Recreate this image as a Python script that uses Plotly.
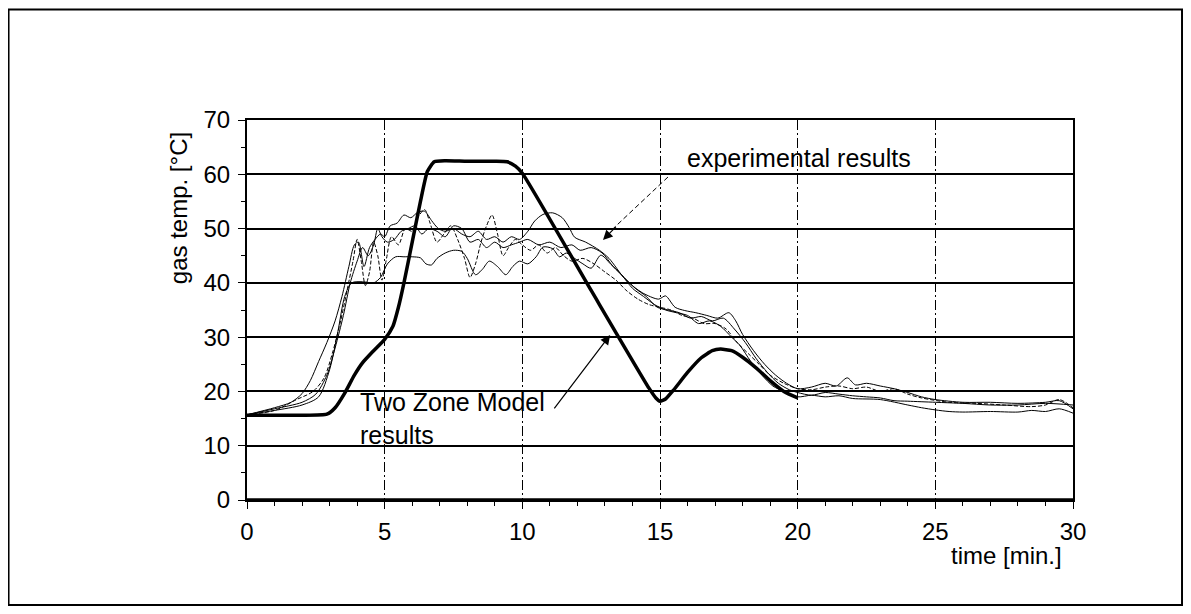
import plotly.graph_objects as go

# ---- data ----
x_ticks = [0, 5, 10, 15, 20, 25, 30]
y_ticks = [0, 10, 20, 30, 40, 50, 60, 70]

# Two Zone Model results
t_model = [0, 1, 2, 2.9, 3.2, 3.55, 3.9, 4.2, 4.6, 5.0, 5.3, 5.5, 5.7, 6.0, 6.3, 6.55, 6.8, 7.2, 8.0, 9.0,
           9.45, 9.75, 10.0, 12.5, 14.6, 14.85, 15.0, 15.2, 15.5, 16.0, 16.5, 16.9, 17.2, 17.6, 18.0, 18.5,
           19.0, 19.5, 20.0]
v_model = [15.6, 15.6, 15.6, 15.8, 17.0, 19.7, 23.0, 25.3, 27.5, 29.6, 32.0, 35.5, 40.0, 47.5, 55.0, 60.5,
           62.3, 62.5, 62.4, 62.4, 62.3, 61.5, 60.2, 38.6, 20.6, 18.8, 18.2, 18.6, 20.3, 23.5, 26.2, 27.5,
           27.8, 27.5, 26.3, 24.3, 22.0, 20.0, 18.8]

# experimental results (four measurements)
t_exp1 = [0, 1.0, 1.6, 2.0, 2.3, 2.6, 2.9, 3.2, 3.45, 3.7, 3.9, 4.05, 4.25, 4.45, 4.65, 4.85, 5.0, 5.2, 5.45,
          5.7, 5.95, 6.2, 6.45, 6.7, 6.95, 7.2, 7.5, 7.8, 8.1, 8.4, 8.7, 9.0, 9.3, 9.6, 9.9, 10.2, 10.45,
          10.75, 11.1, 11.45, 11.7, 11.9, 12.3, 12.8, 13.15, 13.75, 14.35, 14.95, 15.2, 15.55, 15.9, 16.3,
          16.7, 17.1, 17.5, 17.75, 18.0, 18.4, 18.8, 19.2, 19.6, 20.0, 20.5, 21.0, 21.4, 21.8, 22.1, 22.5,
          23.0, 23.5, 24.0, 24.5, 25.0, 26.0, 27.0, 28.0, 29.0, 29.5, 30.0]
v_exp1 = [15.7, 17.0, 18.0, 19.6, 22.0, 25.5, 29.0, 33.0, 37.5, 43.0, 47.0, 47.5, 43.0, 46.5, 48.0, 49.0,
          48.5, 50.5, 51.0, 52.5, 52.0, 53.0, 53.2, 51.5, 50.0, 49.5, 50.0, 49.0, 48.5, 49.5, 48.0, 48.5,
          47.5, 48.5, 48.0, 49.5, 51.4, 52.6, 52.9, 52.0, 50.2, 48.4, 47.5, 46.0, 44.5, 40.6, 38.2, 37.0,
          37.6, 35.5, 34.9, 34.5, 34.0, 33.5, 34.5, 33.0, 30.5, 27.5, 25.0, 23.0, 21.5, 20.5, 20.8, 21.5,
          21.0, 22.5, 21.2, 21.5, 21.0, 20.5, 19.8, 19.0, 18.5, 18.0, 18.0, 17.8, 18.0, 18.3, 16.8]

t_exp2 = [0, 1.0, 2.0, 2.5, 2.9, 3.2, 3.5, 3.75, 4.0, 4.2, 4.4, 4.6, 4.75, 4.9, 5.1, 5.35, 5.6, 5.85, 6.1,
          6.35, 6.6, 6.9, 7.2, 7.5, 7.8, 8.1, 8.4, 8.7, 9.0, 9.3, 9.6, 9.9, 10.2, 10.6, 11.0, 11.4, 11.8,
          12.1, 12.5, 12.9, 13.3, 13.7, 14.1, 14.5, 14.9, 15.3, 15.7, 16.1, 16.5, 16.9, 17.3, 17.7, 18.1,
          18.5, 18.9, 19.3, 19.7, 20.0, 20.5, 21.0, 21.5, 22.0, 22.5, 23.0, 23.5, 24.0, 25.0, 26.0, 27.0,
          28.0, 29.0, 30.0]
v_exp2 = [15.7, 16.8, 18.0, 19.5, 23.0, 28.0, 34.0, 40.0, 44.0, 46.5, 45.0, 47.0, 50.0, 48.5, 47.5, 48.0,
          49.5, 50.0, 50.5, 49.0, 50.0, 49.5, 48.5, 50.5, 50.0, 47.5, 48.0, 46.5, 47.5, 46.5, 47.0, 47.5,
          48.0, 47.0, 47.5, 46.5, 47.0, 46.0, 46.5, 45.5, 43.0, 41.0, 39.0, 37.5, 35.5, 35.0, 34.5, 33.5,
          33.8, 33.0, 33.5, 31.5, 29.0, 26.0, 23.5, 21.5, 20.3, 19.8, 19.3, 19.8, 19.5, 19.2, 19.0, 18.8,
          18.3, 18.2, 18.0, 17.8, 17.5, 17.5, 17.8, 17.5]

t_exp3 = [0, 1.0, 2.0, 2.6, 3.0, 3.3, 3.55, 3.8, 4.2, 4.6, 4.85, 5.1, 5.4, 5.7, 6.0, 6.3, 6.5, 6.7, 6.9,
          7.2, 7.5, 7.8, 8.0, 8.3, 8.55, 8.8, 9.1, 9.4, 9.65, 9.9, 10.2, 10.5, 10.75, 11.1, 11.35, 11.6,
          11.9, 12.2, 12.5, 12.85, 13.2, 13.6, 14.0, 14.4, 14.8, 15.2, 15.6, 16.0, 16.4, 16.8, 17.2, 17.6,
          17.9, 18.3, 18.7, 19.1, 19.5, 20.0, 20.5, 21.0, 21.5, 22.0, 23.0, 24.0, 24.5, 25.0, 25.5, 26.0,
          27.0, 28.0, 28.5, 29.0, 29.5, 30.0]
v_exp3 = [15.7, 16.5, 17.5, 19.0, 24.0, 31.0, 37.5, 40.0, 40.2, 40.0, 41.0, 43.5, 44.8, 44.8, 44.8, 44.6,
          43.5, 43.3, 44.5, 45.5, 46.0, 45.8, 44.5, 41.5, 42.5, 44.0, 43.0, 41.5, 43.0, 44.0, 43.5, 44.8,
          46.6, 46.3, 44.8, 45.5, 44.5, 43.5, 42.7, 45.1, 43.5, 41.5, 39.0, 37.5, 36.0, 35.0, 34.5, 34.0,
          32.5, 33.0, 32.0, 30.0, 28.5, 25.5, 23.0, 21.0, 20.0, 19.0, 19.3, 19.0, 19.2, 18.7, 18.5, 17.5,
          17.0, 16.6, 16.3, 16.2, 16.3, 16.2, 16.5, 16.3, 16.8, 16.0]

t_exp4 = [0, 1.0, 1.8, 2.4, 2.8, 3.1, 3.4, 3.65, 3.85, 4.0, 4.15, 4.3, 4.45, 4.6, 4.75, 4.9, 5.05, 5.25,
          5.5, 5.75, 6.0, 6.2, 6.45, 6.65, 6.9, 7.15, 7.4, 7.65, 7.9, 8.1, 8.3, 8.5, 8.7, 8.9, 9.1, 9.3,
          9.5, 9.75, 10.0, 10.3, 10.6, 10.9, 11.2, 11.5, 11.8, 12.2, 12.6, 13.0, 13.4, 13.8, 14.2, 14.6,
          15.0, 15.4, 15.8, 16.2, 16.6, 17.0, 17.4, 17.8, 18.2, 18.6, 19.0, 19.5, 20.0, 20.5, 21.0, 21.5,
          22.0, 22.5, 23.0, 23.5, 24.0, 24.5, 25.5, 26.5, 27.5, 28.5, 29.0, 29.5, 30.0]
v_exp4 = [15.7, 16.5, 18.5, 20.0, 22.5, 27.0, 33.0, 39.0, 44.0, 48.0, 44.0, 39.5, 42.0, 47.5, 45.0, 40.5,
          44.0, 48.5, 47.0, 50.0, 49.5, 52.0, 53.5, 51.0, 47.5, 49.0, 50.5, 48.0, 44.5, 41.0, 43.5, 47.5,
          50.5, 52.5, 49.0, 45.0, 46.5, 48.0, 47.0, 46.0, 47.0, 45.5, 46.5, 45.0, 44.0, 44.5, 43.5, 42.0,
          40.5, 38.5, 37.0, 36.0, 35.5, 35.0, 34.0, 33.5, 32.5, 32.5, 31.5, 29.0, 27.0, 25.0, 23.0, 21.5,
          20.5, 20.3, 20.8, 21.0, 20.5, 20.8, 20.0, 20.5, 19.5, 18.8, 18.0, 17.8, 17.5, 17.2, 17.5, 18.5,
          17.0]

FONT = "Liberation Sans, Arial, Helvetica, sans-serif"

fig = go.Figure()
thin = dict(color="black", width=1, shape="spline", smoothing=0.8)
fig.add_trace(go.Scatter(x=t_exp1, y=v_exp1, mode="lines", line=thin, hoverinfo="skip"))
fig.add_trace(go.Scatter(x=t_exp2, y=v_exp2, mode="lines", line=thin, hoverinfo="skip"))
fig.add_trace(go.Scatter(x=t_exp3, y=v_exp3, mode="lines", line=thin, hoverinfo="skip"))
fig.add_trace(go.Scatter(x=t_exp4, y=v_exp4, mode="lines",
                         line=dict(color="black", width=1, dash="4px,2px", shape="spline", smoothing=0.8),
                         hoverinfo="skip"))
fig.add_trace(go.Scatter(x=t_model, y=v_model, mode="lines",
                         line=dict(color="black", width=3.5, shape="spline", smoothing=0.5),
                         hoverinfo="skip"))

fig.update_layout(
    width=1175, height=598,
    margin=dict(l=239, r=110, t=112, b=106),
    paper_bgcolor="white", plot_bgcolor="white",
    showlegend=False,
    font=dict(family=FONT, size=24, color="black"),
    xaxis=dict(range=[0, 30], tickvals=x_ticks, showgrid=True, gridcolor="black", gridwidth=1,
               griddash="10px,3px,2px,3px", zeroline=False, showline=True, linecolor="black",
               linewidth=2, mirror=True, ticks="outside", ticklen=7, tickcolor="black",
               ticklabelstandoff=2,
               minor=dict(dtick=1, ticks="outside", ticklen=4, tickcolor="black", showgrid=False),
               tickfont=dict(family=FONT, size=24, color="black")),
    yaxis=dict(range=[0, 70], tickvals=y_ticks, showgrid=True, gridcolor="black", gridwidth=2,
               zeroline=False, showline=True, linecolor="black", linewidth=2, mirror=True,
               ticks="outside", ticklen=7, tickcolor="black", ticklabelstandoff=3,
               minor=dict(dtick=5, ticks="outside", ticklen=4, tickcolor="black", showgrid=False),
               tickfont=dict(family=FONT, size=24, color="black")),
)

# outer frame and thick bottom axis
fig.add_shape(type="rect", xref="paper", yref="paper", x0=-0.2887, x1=1.1320, y0=-0.2763, y1=1.2908,
              line=dict(color="black", width=2), fillcolor="rgba(0,0,0,0)")
fig.add_shape(type="line", xref="paper", yref="paper", x0=0, x1=1, y0=0, y1=0,
              line=dict(color="black", width=3.5))

# axis titles
fig.add_annotation(text="gas temp. [°C]", xref="paper", yref="paper", x=-0.0835, y=0.768,
                   textangle=-90, showarrow=False, xanchor="center", yanchor="middle",
                   font=dict(family=FONT, size=24, color="black"))
fig.add_annotation(text="time [min.]", xref="paper", yref="paper", x=0.919, y=-0.147,
                   showarrow=False, xanchor="center", yanchor="middle",
                   font=dict(family=FONT, size=24, color="black"))

# labels with arrows
fig.add_annotation(text="experimental results", x=15.9, y=63.0, xref="x", yref="y", showarrow=False,
                   xanchor="left", yanchor="middle", font=dict(family=FONT, size=25, color="black"))
fig.add_shape(type="line", xref="x", yref="y", x0=15.29, y0=59.5, x1=13.3, y1=50.0,
              line=dict(color="black", width=1, dash="5px,3px"))
fig.add_annotation(text="", x=12.93, y=47.9, ax=13.45, ay=50.6, xref="x", yref="y", axref="x", ayref="y",
                   showarrow=True, arrowhead=2, arrowsize=1.6, arrowwidth=1.2, arrowcolor="black")

fig.add_annotation(text="Two Zone Model<br>results", x=4.03, y=15.1, xref="x", yref="y", showarrow=False,
                   xanchor="left", yanchor="middle", align="left",
                   font=dict(family=FONT, size=25, color="black"))
fig.add_annotation(text="", x=13.19, y=30.4, ax=11.12, ay=16.6, xref="x", yref="y", axref="x", ayref="y",
                   showarrow=True, arrowhead=2, arrowsize=1.6, arrowwidth=1.2, arrowcolor="black")

fig.write_html("out.html")
